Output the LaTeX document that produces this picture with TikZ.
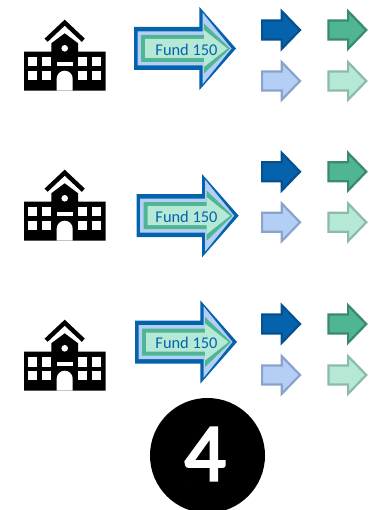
\documentclass[tikz,border=0pt]{standalone}
\usepackage{fontspec}
\setmainfont{Carlito}
\newfontface\fourface[FakeBold=3]{Carlito}
\definecolor{deepblue}{HTML}{0563AE}
\definecolor{edgeblue}{HTML}{05508F}
\definecolor{paleblue}{HTML}{B4CFF5}
\definecolor{edgepale}{HTML}{8AA3CB}
\definecolor{deepgreen}{HTML}{4FB592}
\definecolor{edgegreen}{HTML}{3A8A6C}
\definecolor{mint}{HTML}{B5E8D5}
\definecolor{edgemint}{HTML}{8CBBAA}
% #1 left, #2 half body, #3 head base, #4 half head, #5 tip
\newcommand{\arrowshape}[5]{(#1,-#2) -- (#3,-#2) -- (#3,-#4) -- (#5,0) -- (#3,#4) -- (#3,#2) -- (#1,#2) -- cycle}
\tikzset{
  x=1pt,y=-1pt,
  smallarrow/.pic={\path[pic actions,line width=2.2pt,miter limit=8] \arrowshape{1.1}{9.5}{20.8}{18.8}{39};},
  fundarrow/.pic={
    \fill[deepblue] \arrowshape{0}{21.5}{65.3}{41.7}{102};
    \fill[paleblue] \arrowshape{3.5}{17}{68.5}{35.8}{97.5};
    \fill[deepgreen] \arrowshape{7}{13.5}{70}{25}{96};
    \fill[mint] \arrowshape{11}{9.5}{70}{18.5}{93.5};
  },
  school/.pic={
    \fill[black] (-40.7,0) -- (-40.7,-39) -- (-13.4,-39) -- (-13.4,-47.4) -- (0,-57.4) -- (13.4,-47.4) -- (13.4,-39) -- (41,-39) -- (41,0) -- cycle;
    \draw[black,line width=4.4pt] (-18.6,-50.5) -- (0,-68) -- (18.6,-50.5);
    \fill[white] (0,-42.4) circle (3.3);
    \foreach \wx in {-36.4,-23,13.6,27.6} \foreach \wy in {-33.4,-20} {
      \fill[white] (\wx,\wy) rectangle ++(9,9.2);
    }
    \fill[white] (-8,-29) rectangle (8,-24.7);
    \fill[white] (-8,0) -- (-8,-12) arc (180:360:8) -- (8,0) -- cycle;
  },
  fundtext/.style={text=deepblue,font=\fontsize{16.4}{18}\selectfont,inner sep=0pt},
  dark/.style={fill=deepblue,draw=edgeblue},
  pale/.style={fill=paleblue,draw=edgepale},
  green/.style={fill=deepgreen,draw=edgegreen},
  light/.style={fill=mint,draw=edgemint},
}
\begin{document}
\begin{tikzpicture}
  \useasboundingbox (0,0) rectangle (368,510);
  % one row per school
  \foreach \i/\sy/\ax/\ay/\ty/\uy/\ly in {1/90.7/134/48.5/50/30/81, 2/240.7/136.7/215.7/217/171.7/222.3, 3/390.7/135/342/343/324/375} {
    \pic at (64.7,\sy) {school};
    \pic at (\ax,\ay) {fundarrow};
    \node[fundtext] (fund\i) at (186.5,\ty) {Fund 150};
    \pic[dark] at (261,\uy) {smallarrow};
    \pic[green] at (327.3,\uy) {smallarrow};
    \pic[pale] at (261,\ly) {smallarrow};
    \pic[light] at (327.3,\ly) {smallarrow};
  }
  \node[circle,fill=black,minimum size=115pt,inner sep=0pt] (badge) at (207.5,455.5) {};
  \node[text=white,font=\fourface\fontsize{82}{82}\selectfont,inner sep=0pt] (four) at (205,454) {4};
\end{tikzpicture}
\end{document}
